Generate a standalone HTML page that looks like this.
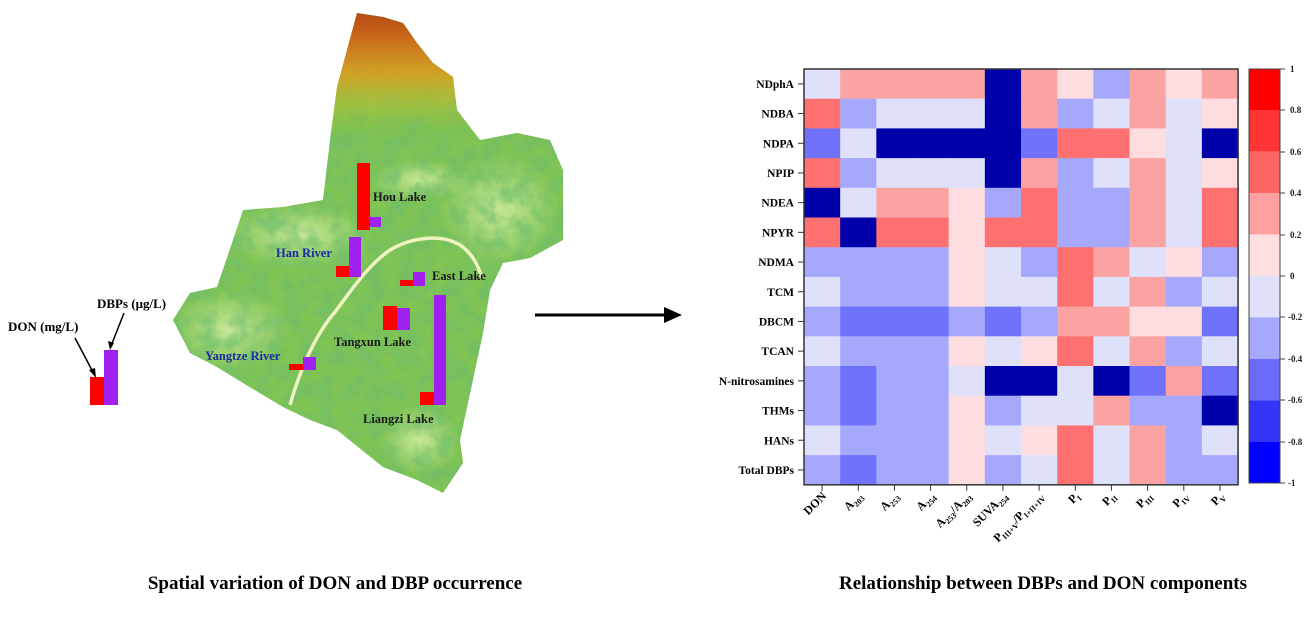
<!DOCTYPE html>
<html><head><meta charset="utf-8"><style>
html,body{margin:0;padding:0;background:#fff;}
svg text{font-family:"Liberation Serif",serif;font-weight:bold;}
</style></head><body>
<svg width="1315" height="612" viewBox="0 0 1315 612" xmlns="http://www.w3.org/2000/svg">
<defs>
<linearGradient id="north" x1="0" y1="0" x2="0" y2="1">
<stop offset="0" stop-color="#a83a10"/><stop offset="0.1" stop-color="#c8641a"/><stop offset="0.22" stop-color="#d9a020" stop-opacity="0.9"/><stop offset="0.32" stop-color="#b8c030" stop-opacity="0.5"/><stop offset="0.42" stop-color="#6cb840" stop-opacity="0"/>
</linearGradient>
<radialGradient id="lt" cx="0.5" cy="0.5" r="0.5"><stop offset="0" stop-color="#c8e898"/><stop offset="1" stop-color="#c8e898" stop-opacity="0"/></radialGradient>
<filter id="tex" x="0" y="0" width="100%" height="100%">
<feTurbulence type="fractalNoise" baseFrequency="0.06" numOctaves="3" seed="4" result="n"/>
<feColorMatrix in="n" type="matrix" values="0 0 0 0 0.15  0 0 0 0 0.5  0 0 0 0 0.15  0 0 0 -3 1.9"/>
</filter>
<clipPath id="mc"><path d="M337,87 L357,13 L383,17 L403,23 L417,43 L433,63 L453,77 L457,110 L480,140 L517,133 L550,140 L563,170 L563,240 L530,258 L503,263 L490,290 L483,333 L460,440 L463,463 L443,493 L417,480 L383,467 L337,430 L310,420 L283,407 L243,383 L217,367 L190,353 L173,320 L190,293 L217,287 L233,240 L243,210 L283,207 L323,200 L330,140 Z"/></clipPath>
</defs>
<g clip-path="url(#mc)">
<rect x="160" y="0" width="410" height="500" fill="#80c455"/>
<ellipse cx="300" cy="235" rx="75" ry="32" fill="url(#lt)"/>
<ellipse cx="500" cy="210" rx="60" ry="55" fill="url(#lt)"/>
<ellipse cx="230" cy="330" rx="60" ry="40" fill="url(#lt)"/>
<ellipse cx="420" cy="440" rx="40" ry="35" fill="url(#lt)"/>
<ellipse cx="420" cy="180" rx="50" ry="20" fill="url(#lt)"/>
<rect x="160" y="0" width="410" height="500" filter="url(#tex)" opacity="0.6"/>
<rect x="160" y="0" width="410" height="340" fill="url(#north)"/>
<path d="M290,405 C300,370 315,335 335,312 C350,292 368,265 390,250 C410,238 440,233 460,245 C472,253 478,265 482,278" stroke="#eef3c0" stroke-width="3.5" fill="none"/>
</g>
<!-- bars -->
<rect x="357" y="163" width="13" height="67" fill="#ff0000"/><rect x="370" y="217" width="11" height="10" fill="#a020f0"/>
<rect x="336" y="266" width="13" height="11" fill="#ff0000"/><rect x="349" y="237" width="12" height="40" fill="#a020f0"/>
<rect x="400" y="280" width="14" height="6" fill="#ff0000"/><rect x="413" y="272" width="12" height="14" fill="#a020f0"/>
<rect x="383" y="306" width="14" height="24" fill="#ff0000"/><rect x="397" y="308" width="13" height="22" fill="#a020f0"/>
<rect x="420" y="392" width="14" height="13" fill="#ff0000"/><rect x="434" y="295" width="12" height="110" fill="#a020f0"/>
<rect x="289" y="364" width="14" height="6" fill="#ff0000"/><rect x="303" y="357" width="13" height="13" fill="#a020f0"/>
<g font-size="12.5">
<text x="373" y="201" fill="#1a1a1a">Hou Lake</text>
<text x="276" y="257" fill="#1a2aa8">Han River</text>
<text x="432" y="280" fill="#1a1a1a">East Lake</text>
<text x="334" y="346" fill="#1a1a1a">Tangxun Lake</text>
<text x="205" y="360" fill="#1a2aa8">Yangtze River</text>
<text x="363" y="423" fill="#1a1a1a">Liangzi Lake</text>
</g>
<!-- legend -->
<rect x="90" y="377" width="14" height="28" fill="#ff0000"/><rect x="104" y="350" width="14" height="55" fill="#a020f0"/>
<text x="8" y="331" font-size="13">DON (mg/L)</text>
<text x="97" y="308" font-size="13">DBPs (μg/L)</text>
<line x1="75" y1="338" x2="94" y2="374" stroke="#000" stroke-width="1.5"/><path d="M96,378 L89,370 L95,368 Z" fill="#000"/>
<line x1="124" y1="313" x2="111" y2="346" stroke="#000" stroke-width="1.5"/><path d="M110,350 L108,341 L114,343 Z" fill="#000"/>
<!-- big arrow -->
<line x1="535" y1="315" x2="666" y2="315" stroke="#000" stroke-width="3"/>
<path d="M682,315 L664,307 L664,323 Z" fill="#000"/>
<!-- titles -->
<text x="335" y="589" font-size="19" text-anchor="middle">Spatial variation of DON and DBP occurrence</text>
<text x="1043" y="589" font-size="19" text-anchor="middle">Relationship between DBPs and DON components</text>
<g id="hm"></g>
<!-- colorbar -->
<g>
<rect x="1249" y="69" width="31" height="41.4" fill="#ff0000"/>
<rect x="1249" y="110.4" width="31" height="41.4" fill="#ff3535"/>
<rect x="1249" y="151.8" width="31" height="41.4" fill="#ff6464"/>
<rect x="1249" y="193.2" width="31" height="41.4" fill="#ffa0a0"/>
<rect x="1249" y="234.6" width="31" height="41.4" fill="#ffdfe0"/>
<rect x="1249" y="276" width="31" height="41.4" fill="#dfe0fa"/>
<rect x="1249" y="317.4" width="31" height="41.4" fill="#a6a8fb"/>
<rect x="1249" y="358.8" width="31" height="41.4" fill="#6a6cf8"/>
<rect x="1249" y="400.2" width="31" height="41.4" fill="#3535f8"/>
<rect x="1249" y="441.6" width="31" height="41.4" fill="#0000ff"/>
<rect x="1249" y="69" width="31" height="414" fill="none" stroke="#444" stroke-width="1"/>
<g font-size="9" fill="#222">
<text x="1290" y="72">1</text><text x="1290" y="113">0.8</text><text x="1290" y="155">0.6</text><text x="1290" y="196">0.4</text><text x="1290" y="238">0.2</text><text x="1290" y="279">0</text><text x="1288" y="320">-0.2</text><text x="1288" y="362">-0.4</text><text x="1288" y="403">-0.6</text><text x="1288" y="445">-0.8</text><text x="1288" y="486">-1</text>
</g>
<g stroke="#444"><line x1="1280" y1="69" x2="1285" y2="69"/><line x1="1280" y1="110" x2="1285" y2="110"/><line x1="1280" y1="152" x2="1285" y2="152"/><line x1="1280" y1="193" x2="1285" y2="193"/><line x1="1280" y1="235" x2="1285" y2="235"/><line x1="1280" y1="276" x2="1285" y2="276"/><line x1="1280" y1="317" x2="1285" y2="317"/><line x1="1280" y1="359" x2="1285" y2="359"/><line x1="1280" y1="400" x2="1285" y2="400"/><line x1="1280" y1="442" x2="1285" y2="442"/><line x1="1280" y1="483" x2="1285" y2="483"/></g>
</g>
</svg>
<script>
(function(){
var C={W:"#dfe0fa",w:"#fddde0",p:"#fba3a3",R:"#fe7170",b:"#a6a8fb",B:"#7072fc",N:"#0000aa"};
var rows=["WppppNpwbpwp","RbWWWNpbWpWw","BWNNNNBRRwWN","RbWWWNpbWpWw","NWppwbRbbpWR","RNRRwRRbbpWR","bbbbwWbRpWwb","WbbbwWWRWpbW","bBBBbBbppwwB","WbbbwWwRWpbW","bBbbWNNWNBpB","bBbbwbWWpbbN","WbbbwWwRWpbW","bBbbwbWRWpbb"];
var names=["NDphA","NDBA","NDPA","NPIP","NDEA","NPYR","NDMA","TCM","DBCM","TCAN","N-nitrosamines","THMs","HANs","Total DBPs"];
var x0=804,y0=69,cw=36.17,rh=29.7,s="";
for(var r=0;r<14;r++){for(var c=0;c<12;c++){s+='<rect x="'+(x0+c*cw)+'" y="'+(y0+r*rh)+'" width="'+(cw+0.6)+'" height="'+(rh+0.6)+'" fill="'+C[rows[r][c]]+'"/>';}
var yc=y0+r*rh+rh/2;s+='<line x1="'+(x0-6)+'" y1="'+yc+'" x2="'+x0+'" y2="'+yc+'" stroke="#333"/>';
s+='<text x="'+(x0-10)+'" y="'+(yc+4)+'" font-size="11.5" text-anchor="end">'+names[r]+'</text>';}
s+='<rect x="'+x0+'" y="'+y0+'" width="'+(12*cw)+'" height="'+(14*rh)+'" fill="none" stroke="#333" stroke-width="1.5"/>';
var xl=['DON','A<tspan font-size="8" dy="3">203</tspan>','A<tspan font-size="8" dy="3">253</tspan>','A<tspan font-size="8" dy="3">254</tspan>','A<tspan font-size="8" dy="3">253</tspan><tspan dy="-3">/A</tspan><tspan font-size="8" dy="3">203</tspan>','SUVA<tspan font-size="8" dy="3">254</tspan>','P<tspan font-size="8" dy="3">III+V</tspan><tspan dy="-3">/P</tspan><tspan font-size="8" dy="3">I+II+IV</tspan>','P<tspan font-size="8" dy="3">I</tspan>','P<tspan font-size="8" dy="3">II</tspan>','P<tspan font-size="8" dy="3">III</tspan>','P<tspan font-size="8" dy="3">IV</tspan>','P<tspan font-size="8" dy="3">V</tspan>'];
var yb=y0+14*rh;
for(var c=0;c<12;c++){var xc=x0+c*cw+cw/2;s+='<line x1="'+xc+'" y1="'+yb+'" x2="'+xc+'" y2="'+(yb+6)+'" stroke="#333"/>';
s+='<text transform="translate('+(xc+5)+','+(yb+12)+') rotate(-45)" font-size="12" text-anchor="end">'+xl[c]+'</text>';}
document.getElementById('hm').innerHTML=s;
})();
</script>
</body></html>
